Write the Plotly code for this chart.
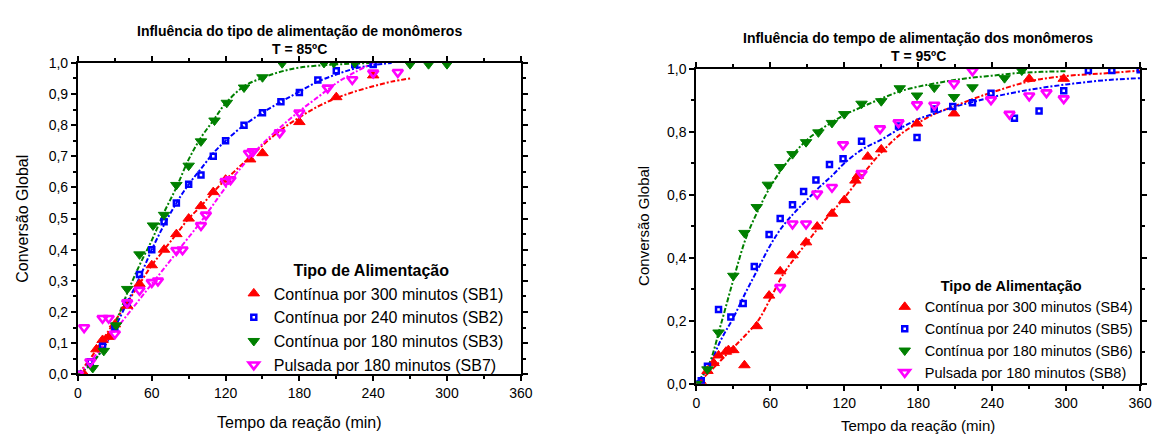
import plotly.graph_objects as go

# ---------------- Left panel: T = 85 ºC ----------------
sb1_t = [5, 15, 20, 25, 30, 40, 50, 60, 70, 80, 90, 100, 110, 120, 140, 150, 180, 210, 240]
sb1_x = [0.0, 0.08, 0.11, 0.12, 0.16, 0.22, 0.29, 0.35, 0.40, 0.45, 0.50, 0.54, 0.585, 0.625, 0.69, 0.71, 0.81, 0.89, 0.96]

sb2_t = [0, 10, 20, 30, 40, 50, 60, 70, 80, 90, 100, 110, 120, 135, 150, 165, 180, 195, 210, 225, 240]
sb2_x = [0.0, 0.04, 0.09, 0.15, 0.23, 0.32, 0.40, 0.49, 0.55, 0.61, 0.64, 0.70, 0.75, 0.80, 0.84, 0.875, 0.905, 0.945, 0.975, 0.995, 0.995]

sb3_t = [0, 12, 21, 31, 40, 50, 61, 70, 80, 90, 100, 111, 121, 135, 150, 166, 200, 208, 225, 270, 285, 300]
sb3_x = [0.0, 0.02, 0.075, 0.157, 0.274, 0.385, 0.478, 0.512, 0.608, 0.670, 0.748, 0.815, 0.872, 0.921, 0.954, 0.999, 1.0, 1.0, 1.0, 0.996, 0.996, 0.996]

sb7_t = [0, 5, 10, 20, 25, 30, 40, 50, 60, 65, 80, 85, 100, 104, 120, 124, 139, 142, 164, 180, 203, 223, 240, 260]
sb7_x = [0.0, 0.15, 0.04, 0.18, 0.18, 0.13, 0.23, 0.27, 0.295, 0.30, 0.398, 0.40, 0.478, 0.512, 0.62, 0.625, 0.71, 0.715, 0.776, 0.84, 0.92, 0.947, 0.968, 0.97]

# model curves (85 ºC)
fit1_t = [0, 10, 20, 30, 40, 50, 60, 70, 80, 90, 100, 110, 120, 135, 150, 165, 180, 195, 210, 225, 240, 255, 270]
fit1_x = [0, 0.05, 0.11, 0.17, 0.23, 0.29, 0.35, 0.40, 0.45, 0.50, 0.54, 0.585, 0.625, 0.68, 0.735, 0.785, 0.825, 0.86, 0.887, 0.908, 0.925, 0.94, 0.95]
fit2_t = [0, 10, 20, 30, 40, 50, 60, 70, 80, 90, 100, 110, 120, 135, 150, 165, 180, 195, 210, 225, 240, 255]
fit2_x = [0, 0.03, 0.08, 0.15, 0.23, 0.31, 0.40, 0.48, 0.55, 0.61, 0.66, 0.71, 0.75, 0.80, 0.84, 0.875, 0.908, 0.94, 0.963, 0.982, 0.993, 1.0]
fit3_t = [0, 10, 20, 30, 40, 50, 60, 70, 80, 90, 100, 110, 120, 135, 150, 165, 180, 200, 220, 240]
fit3_x = [0, 0.03, 0.08, 0.16, 0.26, 0.35, 0.43, 0.52, 0.60, 0.69, 0.76, 0.815, 0.87, 0.925, 0.952, 0.972, 0.985, 0.993, 0.997, 1.0]
fit7_t = [0, 10, 20, 30, 40, 50, 60, 70, 80, 90, 100, 110, 120, 135, 150, 165, 180, 195, 210, 225, 240]
fit7_x = [0, 0.04, 0.09, 0.14, 0.19, 0.24, 0.29, 0.34, 0.39, 0.44, 0.49, 0.545, 0.60, 0.675, 0.74, 0.795, 0.845, 0.89, 0.935, 0.97, 1.0]

# ---------------- Right panel: T = 95 ºC ----------------
sb4_t = [4, 9, 14, 18, 24, 26, 30, 39, 49, 59, 68, 78, 89, 98, 110, 120, 129, 131, 139, 150, 179, 209, 270, 298]
sb4_x = [0.005, 0.041, 0.066, 0.09, 0.102, 0.107, 0.107, 0.059, 0.183, 0.28, 0.357, 0.408, 0.449, 0.499, 0.54, 0.583, 0.645, 0.66, 0.721, 0.744, 0.826, 0.858, 0.968, 0.968]

sb5_t = [0, 4, 9, 18, 28, 38, 47, 59, 68, 78, 87, 97, 108, 119, 134, 164, 179, 193, 208, 224, 239, 258, 278, 298, 318, 337, 360]
sb5_x = [0.0, 0.01, 0.056, 0.236, 0.212, 0.255, 0.372, 0.474, 0.525, 0.568, 0.610, 0.647, 0.696, 0.714, 0.770, 0.818, 0.782, 0.872, 0.880, 0.892, 0.922, 0.843, 0.866, 0.930, 0.994, 0.994, 0.997]

sb6_t = [0, 9, 18, 30, 39, 49, 58, 68, 78, 89, 99, 110, 120, 134, 150, 165, 179, 193, 209, 224, 250, 264]
sb6_x = [0.0, 0.046, 0.163, 0.343, 0.479, 0.561, 0.632, 0.688, 0.729, 0.767, 0.798, 0.828, 0.856, 0.889, 0.897, 0.938, 0.915, 0.94, 0.91, 0.941, 0.97, 0.994]

sb8_t = [68, 78, 89, 98, 110, 119, 134, 149, 164, 179, 193, 209, 224, 239, 254, 270, 284, 298]
sb8_x = [0.306, 0.508, 0.508, 0.603, 0.624, 0.759, 0.668, 0.810, 0.829, 0.886, 0.885, 0.953, 0.994, 0.902, 0.856, 0.914, 0.924, 0.905]

# model curves (95 ºC)
fit4_t = [0, 10, 20, 30, 40, 50, 60, 70, 80, 90, 100, 110, 120, 135, 150, 165, 180, 195, 210, 225, 240, 270, 300, 330, 360]
fit4_x = [0, 0.035, 0.075, 0.115, 0.155, 0.20, 0.27, 0.345, 0.40, 0.45, 0.50, 0.545, 0.59, 0.665, 0.734, 0.79, 0.828, 0.86, 0.882, 0.905, 0.925, 0.96, 0.977, 0.985, 0.994]
fit5_t = [0, 10, 20, 30, 40, 50, 60, 70, 80, 90, 100, 110, 120, 135, 150, 165, 180, 195, 210, 225, 240, 270, 300, 330, 360]
fit5_x = [0, 0.055, 0.14, 0.21, 0.29, 0.365, 0.44, 0.50, 0.545, 0.585, 0.625, 0.66, 0.70, 0.745, 0.775, 0.81, 0.84, 0.86, 0.88, 0.895, 0.91, 0.933, 0.95, 0.963, 0.97]
fit6_t = [0, 10, 20, 30, 40, 50, 60, 70, 80, 90, 100, 110, 120, 135, 150, 165, 180, 200, 220, 240, 260, 280, 300]
fit6_x = [0, 0.06, 0.19, 0.33, 0.46, 0.55, 0.625, 0.685, 0.735, 0.775, 0.805, 0.83, 0.853, 0.88, 0.905, 0.928, 0.943, 0.958, 0.97, 0.978, 0.986, 0.99, 0.992]

labels_85 = ["Contínua por 300 minutos (SB1)", "Contínua por 240 minutos (SB2)",
             "Contínua por 180 minutos (SB3)", "Pulsada por 180 minutos (SB7)"]
labels_95 = ["Contínua por 300 minutos (SB4)", "Contínua por 240 minutos (SB5)",
             "Contínua por 180 minutos (SB6)", "Pulsada por 180 minutos (SB8)"]

RED, BLUE, GREEN, MAGENTA = "#FF0000", "#0000FF", "#008000", "#FF00FF"
FONT = "Liberation Sans, Arial, sans-serif"

marker_styles = [
    dict(symbol="triangle-up", size=10, color=RED, line=dict(color=RED, width=1)),
    dict(symbol="square-open", size=5, color=BLUE, line=dict(color=BLUE, width=2.5)),
    dict(symbol="triangle-down", size=10, color=GREEN, line=dict(color=GREEN, width=1)),
    dict(symbol="triangle-down-open", size=9, color=MAGENTA, line=dict(color=MAGENTA, width=2.6)),
]
DASH = "5px,2px,2px,2px"

fig = go.Figure()

def add_fit(t, x, color, xa, ya):
    fig.add_trace(go.Scatter(x=t, y=x, mode="lines", line=dict(color=color, width=2, dash=DASH, shape="spline"),
                             xaxis=xa, yaxis=ya, showlegend=False, hoverinfo="skip"))

def add_points(t, x, style, name, xa, ya, legend):
    fig.add_trace(go.Scatter(x=t, y=x, mode="markers", marker=style, name=name,
                             xaxis=xa, yaxis=ya, legend=legend))

# left panel
for t, x, c in [(fit1_t, fit1_x, RED), (fit2_t, fit2_x, BLUE), (fit3_t, fit3_x, GREEN), (fit7_t, fit7_x, MAGENTA)]:
    add_fit(t, x, c, "x", "y")
for (t, x), st, nm in zip([(sb1_t, sb1_x), (sb2_t, sb2_x), (sb3_t, sb3_x), (sb7_t, sb7_x)], marker_styles, labels_85):
    add_points(t, x, st, nm, "x", "y", "legend")

# right panel
for t, x, c in [(fit4_t, fit4_x, RED), (fit5_t, fit5_x, BLUE), (fit6_t, fit6_x, GREEN)]:
    add_fit(t, x, c, "x2", "y2")
for (t, x), st, nm in zip([(sb4_t, sb4_x), (sb5_t, sb5_x), (sb6_t, sb6_x), (sb8_t, sb8_x)], marker_styles, labels_95):
    add_points(t, x, st, nm, "x2", "y2", "legend2")

W, H = 1164, 441

def xaxis(dom, anchor):
    return dict(domain=dom, anchor=anchor, range=[0, 360], tick0=0, dtick=60,
                ticks="outside", ticklen=5, tickwidth=1.5, tickcolor="black",
                showline=True, linewidth=2, linecolor="black", mirror="allticks",
                minor=dict(dtick=30, ticks="outside", ticklen=3, tickwidth=1.5, tickcolor="black"),
                showgrid=False, zeroline=False, tickfont=dict(size=14, color="black", family=FONT))

def yaxis(dom, anchor, dtick, mdtick):
    return dict(domain=dom, anchor=anchor, range=[0, 1], tick0=0, dtick=dtick, tickformat=".1f",
                ticks="outside", ticklen=5, tickwidth=1.5, tickcolor="black",
                showline=True, linewidth=2, linecolor="black", mirror="allticks",
                minor=dict(dtick=mdtick, ticks="outside", ticklen=3, tickwidth=1.5, tickcolor="black"),
                showgrid=False, zeroline=False, tickfont=dict(size=14, color="black", family=FONT))

def legend_box(x0, y0, size):
    return dict(x=x0 / W, y=1 - y0 / H, xanchor="left", yanchor="top", bgcolor="rgba(0,0,0,0)",
                font=dict(size=size, family=FONT, color="black"), tracegroupgap=0,
                title=dict(text="<b>Tipo de Alimentação</b>", side="top center",
                           font=dict(size=size, family=FONT, color="black")))

def note(text, x, y, size, bold=False, angle=0):
    return dict(text=f"<b>{text}</b>" if bold else text, x=x / W, y=1 - y / H, xref="paper", yref="paper",
                showarrow=False, textangle=angle, xanchor="center", yanchor="middle",
                font=dict(size=size, family=FONT, color="black"))

fig.update_layout(
    width=W, height=H, margin=dict(l=0, r=0, t=0, b=0),
    paper_bgcolor="white", plot_bgcolor="white", separators=",.",
    font=dict(family=FONT, color="black"),
    xaxis=xaxis([75 / W, 524 / W], "y"),
    yaxis=yaxis([1 - 380 / H, 1 - 57 / H], "x", 0.1, 0.05),
    xaxis2=xaxis([702 / W, 1152 / W], "y2"),
    yaxis2=yaxis([1 - 390 / H, 1 - 63 / H], "x2", 0.2, 0.1),
    legend=legend_box(233, 257, 16),
    legend2=legend_box(893, 274, 14.5),
    annotations=[
        note("Influência do tipo de alimentação de monômeros", 300, 24, 14, bold=True),
        note("T = 85ºC", 300, 43, 14, bold=True),
        note("Influência do tempo de alimentação dos monômeros", 927, 31, 14, bold=True),
        note("T = 95ºC", 927, 50, 14, bold=True),
        note("Tempo da reação (min)", 300, 430, 16),
        note("Tempo da reação (min)", 927, 433, 15),
        note("Conversão Global", 18, 219, 16, angle=-90),
        note("Conversão Global", 649, 226, 15, angle=-90),
    ],
)

fig.write_html("out.html")
